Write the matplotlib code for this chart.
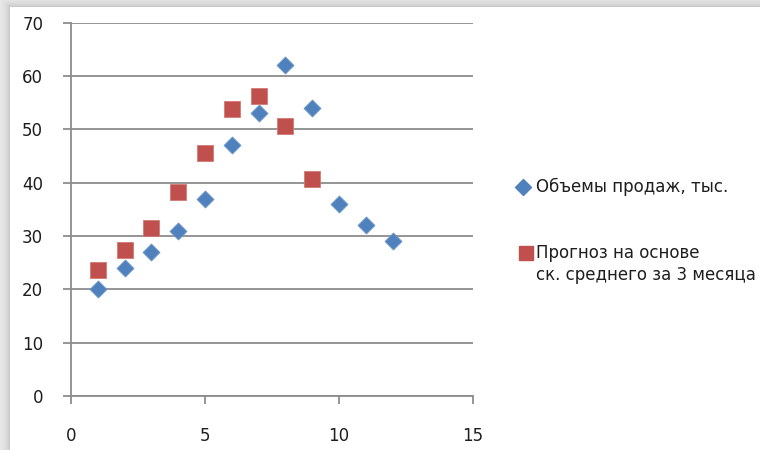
import numpy as np
import matplotlib.pyplot as plt
from matplotlib.lines import Line2D

# месяцы и объемы продаж
months = [1, 2, 3, 4, 5, 6, 7, 8, 9, 10, 11, 12]
sales = [20, 24, 27, 31, 37, 47, 53, 62, 54, 36, 32, 29]

# прогноз по скользящему среднему за 3 месяца
fc_months = [1, 2, 3, 4, 5, 6, 7, 8, 9]
forecast = [23.6, 27.3, 31.5, 38.3, 45.5, 53.9, 56.2, 50.7, 40.6]

label_sales = 'Объемы продаж, тыс.'
label_fc = 'Прогноз на основе\nск. среднего за 3 месяца'

blue = '#4F81BD'
red = '#C0504D'
grid_c = '#8c8c8c'
txt_c = '#1e1e1e'

plt.rcParams['font.family'] = ['DejaVu Sans']

W, H = 760, 450
fig = plt.figure(figsize=(W / 100, H / 100), dpi=100)

# фон: белая область диаграммы с тенью сверху и слева
bg = fig.add_axes([0, 0, 1, 1])
bg.axis('off')
yy, xx = np.mgrid[0:H, 0:W]
dx = np.clip(10 - xx, 0, None)
dy = np.clip(7 - yy, 0, None)
d = np.maximum(dx, dy).astype(float)
shade = np.where(d > 0, 0.93 - 0.14 * np.exp(-(d - 1) / 5.0), 1.0)
bg.imshow(shade, cmap='gray', vmin=0, vmax=1, extent=[0, W, H, 0], aspect='auto')
bg.set_xlim(0, W)
bg.set_ylim(H, 0)

ax = fig.add_axes([71 / W, 54 / H, 402 / W, 373.3 / H])
ax.set_facecolor('none')

ax.scatter(months, sales, marker='D', s=75, color=blue, edgecolors='#6f97c9',
           linewidths=0.6, zorder=3)
ax.scatter(fc_months, forecast, marker='s', s=135, color=red, edgecolors='#d27a77',
           linewidths=0.6, zorder=3)

ax.set_xlim(0, 15)
ax.set_ylim(0, 70)
ax.set_xticks([0, 5, 10, 15])
ax.set_yticks(range(0, 71, 10))

ax.yaxis.grid(True, color=grid_c, linewidth=1.3)
ax.set_axisbelow(True)
for s in ['top', 'right']:
    ax.spines[s].set_visible(False)
for s in ['left', 'bottom']:
    ax.spines[s].set_color(grid_c)
    ax.spines[s].set_linewidth(1.3)

ax.tick_params(axis='y', direction='out', length=6, width=1.3, color=grid_c,
               pad=14, labelsize=12, labelcolor=txt_c)
ax.tick_params(axis='x', direction='out', length=6, width=1.3, color=grid_c,
               pad=16, labelsize=12, labelcolor=txt_c)

# легенда справа
fig.add_artist(Line2D([523 / W], [1 - 187 / H], marker='D', markersize=8.5,
                      color=blue, linestyle='none', transform=fig.transFigure))
fig.text(536 / W, 1 - 187 / H, label_sales, fontsize=12, color=txt_c,
         va='center', ha='left')
fig.add_artist(Line2D([526 / W], [1 - 253 / H], marker='s', markersize=10,
                      color=red, linestyle='none', transform=fig.transFigure))
fig.text(536 / W, 1 - 244 / H, label_fc, fontsize=12, color=txt_c,
         va='top', ha='left', linespacing=1.3)

fig.savefig('out.png', dpi=100)
